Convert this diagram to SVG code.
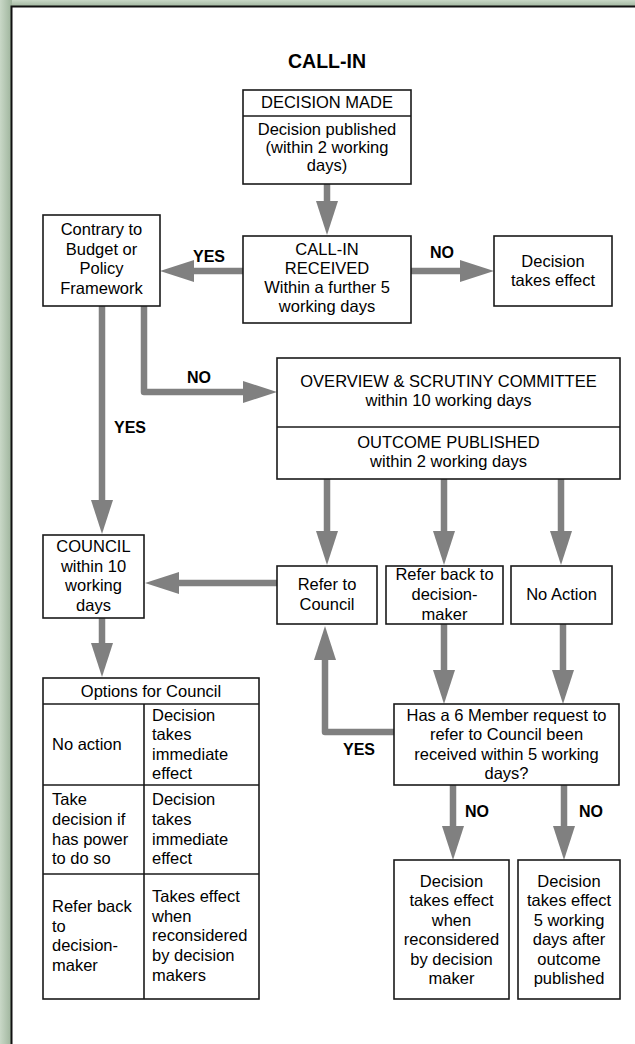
<svg xmlns="http://www.w3.org/2000/svg" width="635" height="1044" viewBox="0 0 635 1044">
<style>
.box{fill:#fff;stroke:#1a1a1a;stroke-width:1.6}
.div{stroke:#1a1a1a;stroke-width:1.6}
text{font-family:"Liberation Sans",Arial,sans-serif;font-size:16.5px;fill:#000}
.c{text-anchor:middle}
.b{font-weight:bold;font-size:16px}
.con{fill:none;stroke:#808080;stroke-width:6.5;stroke-linecap:round;stroke-linejoin:round;marker-end:url(#ah)}
</style>
<defs>
<marker id="ah" markerUnits="userSpaceOnUse" markerWidth="34" markerHeight="22" viewBox="0 0 34 22" refX="0" refY="11" orient="auto">
<path d="M0,0 L34,11 L0,22 Z" fill="#808080"/>
</marker>
<linearGradient id="gl" x1="0" y1="0" x2="1" y2="0">
<stop offset="0" stop-color="#c9d8c7"/>
<stop offset="1" stop-color="#9db39b"/>
</linearGradient>
<linearGradient id="gt" x1="0" y1="0" x2="0" y2="1">
<stop offset="0" stop-color="#c9d8c7"/>
<stop offset="1" stop-color="#9db39b"/>
</linearGradient>
</defs>
<g id="frame">
<rect x="0" y="0" width="635" height="1044" fill="#b9cab7"/>
<rect x="0" y="0" width="635" height="7" fill="url(#gt)"/>
<rect x="0" y="0" width="12" height="1044" fill="url(#gl)"/>
<rect x="11.5" y="6.5" width="640" height="1050" fill="#fff" stroke="#111" stroke-width="2"/>
</g>
<text id="title" class="c b" x="327" y="68" style="font-size:19.5px">CALL-IN</text>
<g id="connectors">
<path class="con" d="M327,184 V201"/>
<path class="con" d="M411,271 H460"/>
<path class="con" d="M243,271 H194"/>
<path class="con" d="M102,306 V500"/>
<path class="con" d="M144,306 V392 H243"/>
<path class="con" d="M327,479 V531"/>
<path class="con" d="M444,479 V531"/>
<path class="con" d="M561,479 V531"/>
<path class="con" d="M277,583 H179"/>
<path class="con" d="M102,618 V643"/>
<path class="con" d="M444,624 V670"/>
<path class="con" d="M563,624 V670"/>
<path class="con" d="M394,732 H325 V660"/>
<path class="con" d="M453,785 V826"/>
<path class="con" d="M564,785 V826"/>
<text class="b" x="430" y="258">NO</text>
<text class="b" x="193" y="262">YES</text>
<text class="b" x="187" y="383">NO</text>
<text class="b" x="114" y="433">YES</text>
<text class="b" x="343" y="755">YES</text>
<text class="b" x="465" y="817">NO</text>
<text class="b" x="579" y="817">NO</text>
</g>
<g id="decision-made">
<rect class="box" x="243" y="90" width="168" height="94"/>
<line class="div" x1="243" y1="116" x2="411" y2="116"/>
<text class="c" x="327" y="108">DECISION MADE</text>
<text class="c" x="327" y="135">Decision published</text>
<text class="c" x="327" y="153">(within 2 working</text>
<text class="c" x="327" y="171">days)</text>
</g>
<g id="call-in-received">
<rect class="box" x="243" y="236" width="168" height="87"/>
<text class="c" x="327" y="255">CALL-IN</text>
<text class="c" x="327" y="274">RECEIVED</text>
<text class="c" x="327" y="293">Within a further 5</text>
<text class="c" x="327" y="312">working days</text>
</g>
<g id="decision-takes-effect">
<rect class="box" x="494" y="236" width="118" height="70"/>
<text class="c" x="553" y="267">Decision</text>
<text class="c" x="553" y="286">takes effect</text>
</g>
<g id="contrary">
<rect class="box" x="43" y="215" width="117" height="91"/>
<text class="c" x="101.5" y="235">Contrary to</text>
<text class="c" x="101.5" y="255">Budget or</text>
<text class="c" x="101.5" y="274">Policy</text>
<text class="c" x="101.5" y="294">Framework</text>
</g>
<g id="overview">
<rect class="box" x="277" y="358" width="343" height="121"/>
<line class="div" x1="277" y1="427" x2="620" y2="427"/>
<text class="c" x="448.5" y="387">OVERVIEW &amp; SCRUTINY COMMITTEE</text>
<text class="c" x="448.5" y="406">within 10 working days</text>
<text class="c" x="448.5" y="448">OUTCOME PUBLISHED</text>
<text class="c" x="448.5" y="467">within 2 working days</text>
</g>
<g id="refer-to-council">
<rect class="box" x="277" y="566" width="100" height="58"/>
<text class="c" x="327" y="590">Refer to</text>
<text class="c" x="327" y="610">Council</text>
</g>
<g id="refer-back">
<rect class="box" x="386" y="566" width="117" height="58"/>
<text class="c" x="444.5" y="580">Refer back to</text>
<text class="c" x="444.5" y="600">decision-</text>
<text class="c" x="444.5" y="620">maker</text>
</g>
<g id="no-action">
<rect class="box" x="511" y="566" width="101" height="58"/>
<text class="c" x="561.5" y="600">No Action</text>
</g>
<g id="council">
<rect class="box" x="43" y="535" width="101" height="83"/>
<text class="c" x="93.5" y="552">COUNCIL</text>
<text class="c" x="93.5" y="572">within 10</text>
<text class="c" x="93.5" y="591">working</text>
<text class="c" x="93.5" y="611">days</text>
</g>
<g id="options">
<rect class="box" x="43" y="678" width="216" height="321"/>
<line class="div" x1="43" y1="704" x2="259" y2="704"/>
<line class="div" x1="43" y1="785" x2="259" y2="785"/>
<line class="div" x1="43" y1="874" x2="259" y2="874"/>
<line class="div" x1="144" y1="704" x2="144" y2="999"/>
<text class="c" x="151" y="697">Options for Council</text>
<text x="52" y="750">No action</text>
<text x="152" y="721">Decision</text>
<text x="152" y="740">takes</text>
<text x="152" y="760">immediate</text>
<text x="152" y="779">effect</text>
<text x="52" y="805">Take</text>
<text x="52" y="825">decision if</text>
<text x="52" y="845">has power</text>
<text x="52" y="864">to do so</text>
<text x="152" y="805">Decision</text>
<text x="152" y="825">takes</text>
<text x="152" y="845">immediate</text>
<text x="152" y="864">effect</text>
<text x="52" y="912">Refer back</text>
<text x="52" y="932">to</text>
<text x="52" y="951">decision-</text>
<text x="52" y="971">maker</text>
<text x="152" y="902">Takes effect</text>
<text x="152" y="922">when</text>
<text x="152" y="941">reconsidered</text>
<text x="152" y="961">by decision</text>
<text x="152" y="981">makers</text>
</g>
<g id="six-member">
<rect class="box" x="394" y="704" width="225" height="81"/>
<text class="c" x="506.5" y="721">Has a 6 Member request to</text>
<text class="c" x="506.5" y="740">refer to Council been</text>
<text class="c" x="506.5" y="760">received within 5 working</text>
<text class="c" x="506.5" y="779">days?</text>
</g>
<g id="effect-when-reconsidered">
<rect class="box" x="394" y="860" width="115" height="139"/>
<text class="c" x="451.5" y="887">Decision</text>
<text class="c" x="451.5" y="906">takes effect</text>
<text class="c" x="451.5" y="926">when</text>
<text class="c" x="451.5" y="945">reconsidered</text>
<text class="c" x="451.5" y="965">by decision</text>
<text class="c" x="451.5" y="984">maker</text>
</g>
<g id="effect-5-days">
<rect class="box" x="518" y="860" width="102" height="139"/>
<text class="c" x="569" y="887">Decision</text>
<text class="c" x="569" y="906">takes effect</text>
<text class="c" x="569" y="926">5 working</text>
<text class="c" x="569" y="945">days after</text>
<text class="c" x="569" y="965">outcome</text>
<text class="c" x="569" y="984">published</text>
</g>
</svg>
